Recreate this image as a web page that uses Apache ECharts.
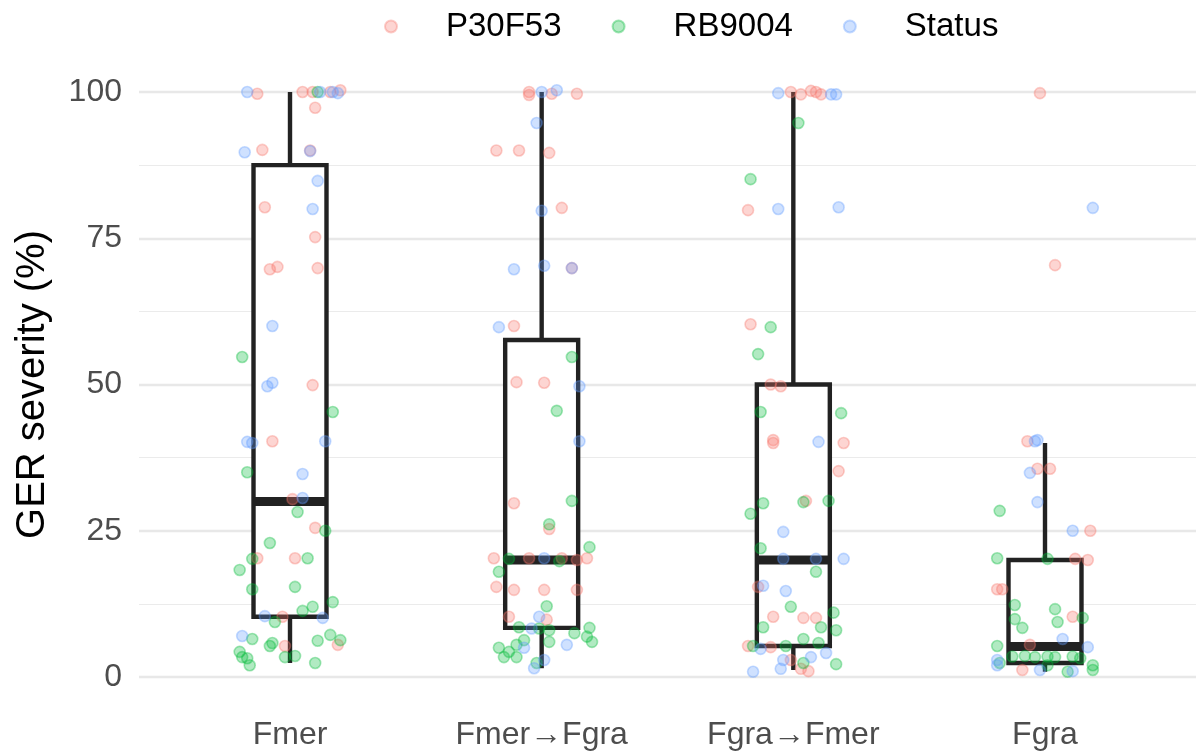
<!DOCTYPE html>
<html>
<head>
<meta charset="utf-8">
<script src="https://cdn.jsdelivr.net/npm/echarts@6/dist/echarts.min.js"></script>
<style>
html,body{margin:0;padding:0;background:#fff;}
#chart{width:1199px;height:753px;}
</style>
</head>
<body>
<div id="chart"></div>
<script>
// ---- data ----
const categories = ['Fmer', 'Fmer→Fgra', 'Fgra→Fmer', 'Fgra'];
const seriesNames = ['P30F53', 'RB9004', 'Status'];
const yTicks = [0, 25, 50, 75, 100];

// box statistics per category: lower whisker, Q1, median, Q3, upper whisker
const boxLow = [2.4, 1.5, 1.2, 0.9];
const boxQ1 = [10.3, 8.4, 5.3, 2.4];
const boxMedian = [30, 20, 20, 5.2];
const boxQ3 = [87.5, 57.6, 50, 20];
const boxHigh = [100, 100, 100, 40];

// jittered points [x position (category index + jitter), severity %]
const p30f53 = [
  [0.87,99.7],[1.05,100],[1.09,100],[1.16,100],[1.20,100.3],[1.10,97.3],[0.89,90.1],[1.08,90],[0.90,80.3],[1.10,75.2],
  [0.92,69.7],[0.95,70.1],[1.11,69.9],[1.09,49.9],[0.93,40.3],[1.01,30.4],[1.10,25.5],[0.87,20.3],[1.02,20.3],[0.97,10.3],
  [0.98,5.3],[1.19,5.5],
  [1.95,100],[1.95,99.5],[2.04,99.7],[2.14,99.7],[1.82,90],[1.91,90],[2.03,89.6],[2.08,80.2],[2.12,69.9],[1.89,60],
  [1.90,50.4],[2.01,50.3],[1.89,29.7],[2.03,25.3],[1.81,20.3],[1.95,20.3],[2.08,20.3],[2.14,20],[2.18,20.3],[1.82,15.4],
  [1.89,14.9],[2.01,14.9],[2.14,14.9],[1.87,10.3],[2.02,9.8],
  [2.99,100],[3.03,99.6],[3.07,100.2],[3.09,100],[3.11,99.6],[2.82,79.8],[2.83,60.3],[2.91,50],[2.95,49.7],[2.92,40.5],
  [2.92,40],[3.20,40],[3.18,35.2],[3.05,30.1],[2.86,15.4],[2.92,10.3],[3.04,10.1],[3.09,10.1],[2.82,5.3],[2.91,5.1],
  [2.99,2.9],[3.03,1.4],[3.06,1],
  [3.98,99.8],[4.04,70.4],[3.93,40.3],[3.97,35.6],[4.02,35.6],[4.18,25],[4.12,20.2],[4.17,20],[3.81,15],[3.83,15],
  [4.11,10.3],[3.94,5.5],[3.91,1.2]
];
const rb9004 = [
  [1.11,100],[0.81,54.7],[1.17,45.3],[0.83,35],[1.03,28.2],[1.14,25],[0.92,22.9],[0.85,20.2],[1.07,20.3],[0.80,18.3],
  [0.85,15],[1.02,15.4],[1.17,12.8],[1.09,12],[1.05,11.3],[0.94,9.4],[0.85,6.5],[0.93,5.8],[0.92,5.3],[1.11,6.2],
  [1.16,7.2],[1.20,6.3],[0.80,4.3],[0.81,3.4],[0.83,3.2],[0.84,2],[0.98,3.4],[1.02,3.6],[1.10,2.4],
  [2.12,54.7],[2.06,45.5],[2.12,30.1],[2.03,26.1],[2.19,22.2],[1.87,20.2],[2.07,19.8],[1.83,18],[2.02,12.1],[1.91,8.5],
  [1.99,8.3],[2.03,8],[2.13,7.5],[2.19,8.4],[2.18,6.9],[2.20,6],[2.03,6],[1.93,6.3],[1.90,5.5],[1.83,5],
  [1.87,4.3],[1.85,3.4],[1.90,3.4],[1.98,2.4],
  [3.02,94.7],[2.83,85.1],[2.91,59.8],[2.86,55.2],[2.87,45.3],[3.19,45.1],[2.88,29.7],[3.04,29.9],[3.14,30.1],[2.83,27.9],
  [2.87,22],[3.09,18],[2.99,12],[3.16,11],[2.88,8.5],[3.11,8.5],[3.17,8],[3.04,6.5],[3.10,5.8],[2.84,5.3],
  [2.97,5.3],[3.04,2.4],[3.17,2.2],
  [3.82,28.4],[3.81,20.3],[4.01,20.2],[3.88,12.3],[4.04,11.6],[3.88,9.9],[3.91,8.4],[4.05,9.4],[4.15,10.1],[3.81,5.3],
  [3.87,3.5],[3.92,3.6],[3.96,3.4],[4.01,3.5],[4.04,3.4],[4.11,3.5],[4.14,3.2],[3.82,2.4],[4.09,0.9],[4.19,1.2],
  [4.19,2],[4.01,2]
];
const status = [
  [0.83,100],[1.12,100],[1.17,100],[1.19,99.8],[0.82,89.7],[1.08,89.9],[1.11,84.8],[1.09,80],[0.93,60],[0.91,49.7],
  [0.93,50.3],[0.83,40.2],[0.85,40],[1.14,40.3],[1.05,34.7],[1.05,30.6],[0.90,10.4],[1.13,10.1],[0.81,7],
  [2.00,100],[2.06,100.3],[1.98,94.7],[2.00,79.7],[1.89,69.7],[2.01,70.3],[2.12,69.9],[1.83,59.8],[2.15,49.7],[2.15,40.3],
  [2.01,20.3],[1.99,10.3],[1.96,8.3],[2.10,5.5],[1.93,5],[2.01,2.9],[1.97,1.5],
  [2.94,99.8],[3.15,99.6],[3.17,99.6],[2.94,80],[3.18,80.3],[3.10,40.2],[2.96,24.8],[2.96,20.2],[3.09,20.2],[3.20,20.2],
  [2.88,15.6],[2.97,14.7],[2.87,4.8],[2.96,2.9],[2.95,1.4],[3.07,3.4],[3.13,4.1],[2.84,0.9],
  [4.19,80.2],[3.96,40.3],[3.97,40.5],[3.94,34.9],[3.97,29.9],[4.11,25],[4.07,6.5],[4.17,5.1],[3.81,2.9],[3.81,2],
  [3.98,1.2],[4.11,1]
];

// ---- chart ----
const FONT = '"Liberation Sans", Arial, Helvetica, sans-serif';
const colors = ['248,118,109', '0,186,56', '97,156,255'];
const pointSets = [p30f53, rb9004, status];

const boxData = categories.map((c, i) => [i + 1, boxLow[i], boxQ1[i], boxMedian[i], boxQ3[i], boxHigh[i]]);
const BOX_COLOR = '#222222';
const HALF_W = 0.145;

const chart = echarts.init(document.getElementById('chart'), null, {renderer: 'canvas'});
const option = {
  animation: false,
  backgroundColor: '#ffffff',
  grid: {left: 139, right: 3, top: 92, bottom: 76, containLabel: false},
  legend: {
    data: seriesNames,
    icon: 'circle',
    left: 384,
    top: 10,
    padding: 0,
    itemWidth: 12,
    itemHeight: 12,
    itemGap: 50,
    textStyle: {fontSize: 33, color: '#000', fontFamily: FONT, padding: [0, 0, 0, 44]}
  },
  xAxis: {
    type: 'value',
    min: 0.4,
    max: 4.6,
    axisLine: {show: false},
    axisTick: {show: false},
    splitLine: {show: false},
    axisLabel: {
      customValues: [1, 2, 3, 4],
      formatter: v => categories[Math.round(v) - 1] || '',
      fontSize: 32,
      color: '#4D4D4D',
      fontFamily: FONT,
      margin: 42
    }
  },
  yAxis: {
    type: 'value',
    min: 0,
    max: 100,
    interval: 25,
    name: 'GER severity (%)',
    nameLocation: 'middle',
    nameGap: 86,
    nameRotate: 90,
    nameTextStyle: {fontSize: 40, color: '#000', fontFamily: FONT},
    axisLine: {show: false},
    axisTick: {show: false},
    axisLabel: {
      fontSize: 32, color: '#4D4D4D', fontFamily: FONT, margin: 17,
      formatter: v => (yTicks.indexOf(v) >= 0 ? String(v) : '')
    },
    splitLine: {show: true, lineStyle: {color: '#E8E8E8', width: 2.4}},
    minorTick: {show: false, splitNumber: 2},
    minorSplitLine: {show: true, lineStyle: {color: '#EBEBEB', width: 1.2}}
  },
  series: [
    {
      type: 'custom',
      name: 'box',
      z: 1,
      clip: false,
      encode: {x: 0, y: [1, 2, 3, 4, 5]},
      data: boxData,
      renderItem: function (params, api) {
        const x = api.value(0);
        const lo = api.value(1), q1 = api.value(2), md = api.value(3), q3 = api.value(4), hi = api.value(5);
        const tl = api.coord([x - HALF_W, q3]);
        const br = api.coord([x + HALF_W, q1]);
        const pHi = api.coord([x, hi]);
        const pLo = api.coord([x, lo]);
        const ml = api.coord([x - HALF_W, md]);
        const mr = api.coord([x + HALF_W, md]);
        const st = {stroke: BOX_COLOR, lineWidth: 4.4};
        return {
          type: 'group',
          children: [
            {type: 'line', shape: {x1: pHi[0], y1: pHi[1], x2: pHi[0], y2: tl[1]}, style: st},
            {type: 'line', shape: {x1: pLo[0], y1: br[1], x2: pLo[0], y2: pLo[1]}, style: st},
            {type: 'rect', shape: {x: tl[0], y: tl[1], width: br[0] - tl[0], height: br[1] - tl[1]},
              style: {fill: '#ffffff', stroke: BOX_COLOR, lineWidth: 4.4}},
            {type: 'line', shape: {x1: ml[0], y1: ml[1], x2: mr[0], y2: mr[1]},
              style: {stroke: BOX_COLOR, lineWidth: 9, lineCap: 'butt'}}
          ]
        };
      }
    }
  ].concat(seriesNames.map((name, i) => ({
    type: 'scatter',
    name: name,
    z: 3,
    clip: false,
    symbol: 'circle',
    symbolSize: 11,
    data: pointSets[i],
    itemStyle: {
      color: 'rgba(' + colors[i] + ',0.38)',
      borderColor: 'rgba(' + colors[i] + ',0.45)',
      borderWidth: 1.6
    },
    emphasis: {disabled: true}
  })))
};
chart.setOption(option);
</script>
</body>
</html>
